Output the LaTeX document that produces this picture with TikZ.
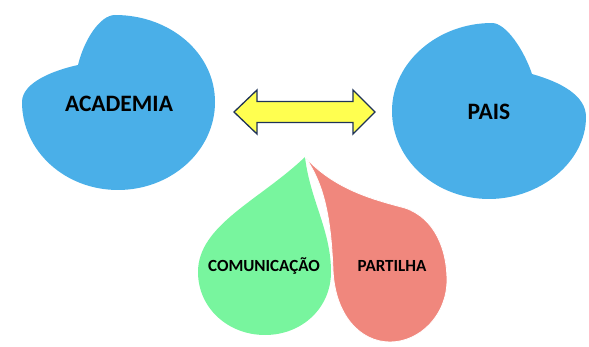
\documentclass[tikz,border=0pt]{standalone}
\usepackage{fontspec}
\setmainfont{Carlito}
\definecolor{blob}{HTML}{4AAFE8}
\definecolor{dropg}{HTML}{78F59E}
\definecolor{dropr}{HTML}{F0877D}
\definecolor{arrfill}{HTML}{FFFF50}
\definecolor{arrline}{HTML}{1F3358}
\begin{document}
\begin{tikzpicture}[x=1pt,y=-1pt,
  blobshape/.style={fill=blob,draw=none},
  label/.style={font=\bfseries\fontsize{23.5}{26}\selectfont,anchor=base,inner sep=0pt},
  smalllabel/.style={font=\bfseries\fontsize{17}{19}\selectfont,anchor=base,inner sep=0pt}]
\useasboundingbox (0,0) rectangle (589,347);
% ACADEMIA blob
\path[blobshape] (115,15) .. controls (100,15) and (84,40) .. (78,65)
  .. controls (55,70) and (22,82) .. (22,102)
  .. controls (22,151) and (65,190) .. (118,190)
  .. controls (171,190) and (215,151) .. (215,102)
  .. controls (215,53) and (170,15) .. (115,15) -- cycle;
% PAIS blob
\path[blobshape] (492,23) .. controls (506,23) and (524,50) .. (532,74)
  .. controls (560,82) and (586,95) .. (586,117)
  .. controls (586,162) and (540,199) .. (489,199)
  .. controls (436,199) and (392,160) .. (392,111)
  .. controls (392,62) and (438,23) .. (492,23) -- cycle;
% green drop
\path[fill=dropg] (305,157) .. controls (310,200) and (331,230) .. (331,272)
  .. controls (331,308) and (302,335) .. (265,335)
  .. controls (228,335) and (198,308) .. (198,272)
  .. controls (198,225) and (260,200) .. (305,157) -- cycle;
% red drop
\path[fill=dropr,draw=white,line width=0.8pt] (305,157) .. controls (335,190) and (375,200) .. (405,208)
  .. controls (435,218) and (447,250) .. (447,280)
  .. controls (447,315) and (420,342) .. (390,342)
  .. controls (360,342) and (335,315) .. (333,270)
  .. controls (331,220) and (325,185) .. (305,157) -- cycle;
% double arrow
\draw[fill=arrfill,draw=arrline,line width=1.3pt,line join=miter]
  (234,112) -- (257,90) -- (257,101.5) -- (353,101.5) -- (353,90) -- (375,112)
  -- (353,134) -- (353,122.5) -- (257,122.5) -- (257,134) -- cycle;
% labels
\node[label] (academia) at (119,112) {ACADEMIA};
\node[label] (pais) at (489,120) {PAIS};
\node[smalllabel] (comunicacao) at (264,271.5) {COMUNICAÇÃO};
\node[smalllabel] (partilha) at (392,271.5) {PARTILHA};
\end{tikzpicture}
\end{document}
